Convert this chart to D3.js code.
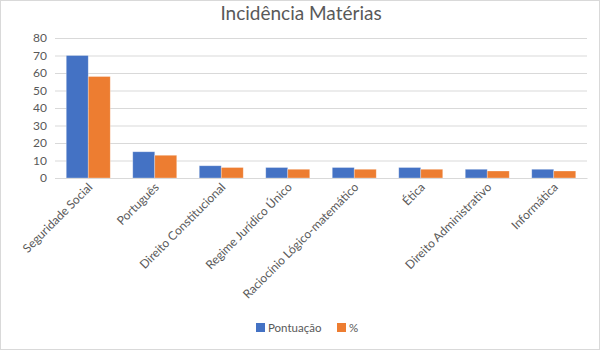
<!DOCTYPE html>
<html><head><meta charset="utf-8">
<script src="https://cdn.jsdelivr.net/npm/d3@7"></script>
<style>body{margin:0;background:#fff;} text{font-family:Lato,"Open Sans",sans-serif;}</style>
</head><body>
<svg id="c" width="600" height="350"></svg>
<script>
const categories = ["Seguridade Social","Português","Direito Constitucional","Regime Jurídico Único","Raciocínio Lógico-matemático","Ética","Direito Administrativo","Informática"];
const pontuacao = [70, 15, 7, 6, 6, 6, 5, 5];
const percent = [58, 13, 6, 5, 5, 5, 4, 4];
const seriesNames = ["Pontuação", "%"];
const seriesColors = ["#4472C4", "#ED7D31"];
const yTicks = [0,10,20,30,40,50,60,70,80];

(function(){
const svg = d3.select("#c");
svg.append("rect").attr("x",0.5).attr("y",0.5).attr("width",599).attr("height",349).attr("fill","#fff").attr("stroke","#d9d9d9");

const mLeft = 55, mRight = 587, mTop = 38, mBottom = 178;
const x = d3.scaleBand().domain(categories).range([mLeft, mRight]);
const y = d3.scaleLinear().domain([0, 80]).range([mBottom, mTop]);
const barW = 22;
const x1 = d3.scaleBand().domain([0,1]).range([0, barW*2]);

svg.append("text").attr("x",301).attr("y",20).attr("text-anchor","middle")
  .attr("font-size",19).attr("fill","#595959").text("Incidência Matérias");

const yAxis = d3.axisLeft(y).tickValues(yTicks).tickSize(-(mRight-mLeft)).tickPadding(8);
const gy = svg.append("g").attr("transform",`translate(${mLeft},0)`).call(yAxis);
gy.select(".domain").remove();
gy.selectAll("line").attr("stroke","#d9d9d9");
gy.selectAll("text").attr("fill","#595959").attr("font-size",12).attr("font-family","Lato, sans-serif");

const data = [pontuacao, percent];
data.forEach((vals, s) => {
  svg.append("g").selectAll("rect").data(vals).enter().append("rect")
    .attr("x",(d,i)=> x(categories[i]) + x.bandwidth()/2 - barW + x1(s))
    .attr("y", d=> y(d))
    .attr("width", barW)
    .attr("height", d=> y(0)-y(d))
    .attr("fill", seriesColors[s])
    .attr("stroke","#fff").attr("stroke-opacity",0.4).attr("stroke-width",0.75);
});

const xAxis = d3.axisBottom(x).tickSize(0).tickPadding(0);
const gx = svg.append("g").attr("transform",`translate(0,${mBottom})`).call(xAxis);
gx.select(".domain").attr("stroke","#d9d9d9");
gx.selectAll("text").attr("fill","#595959").attr("font-size",12).attr("font-family","Lato, sans-serif")
  .attr("text-anchor","end").attr("dy",null).attr("y",0)
  .attr("transform","translate(5,10) rotate(-45)");

const leg = svg.append("g");
const legX = [256, 337];
seriesNames.forEach((n,i)=>{
  leg.append("rect").attr("x",legX[i]).attr("y",323).attr("width",9).attr("height",9).attr("fill",seriesColors[i]);
  leg.append("text").attr("x",legX[i]+12).attr("y",332).attr("font-size",11.5).attr("fill","#595959").text(n);
});
})();
</script>
</body></html>
